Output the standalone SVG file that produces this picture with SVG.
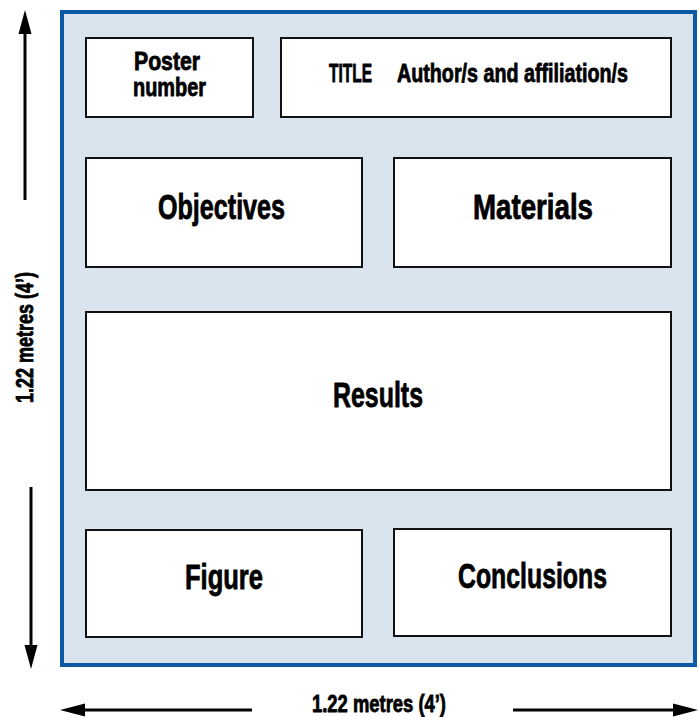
<svg xmlns="http://www.w3.org/2000/svg" width="699" height="717" viewBox="0 0 699 717">
<style>
.box{fill:#ffffff;stroke:#111111;stroke-width:2}
.t{font-family:"Liberation Sans",Arial,sans-serif;font-weight:bold;fill:#000000;stroke:#000000;stroke-width:0.8;stroke-linejoin:round}
.big{font-size:35px}
.mid{font-size:25px}
.dim{font-size:23px}
.ln{stroke:#000000;stroke-width:3;fill:none}
.hd{fill:#000000}
</style>
<rect id="frame" x="62" y="12" width="633" height="653" fill="#dae4ef" stroke="#0b5aa3" stroke-width="4"/>
<g id="poster-number">
<rect class="box" x="86" y="38" width="167" height="79"/>
<text class="t mid" x="134" y="70" textLength="66" lengthAdjust="spacingAndGlyphs">Poster</text>
<text class="t mid" x="133" y="96" textLength="73" lengthAdjust="spacingAndGlyphs">number</text>
</g>
<g id="title">
<rect class="box" x="281" y="38" width="390" height="79"/>
<text class="t mid" x="329" y="82" textLength="43" lengthAdjust="spacingAndGlyphs">TITLE</text>
<text class="t mid" x="397" y="82" textLength="231" lengthAdjust="spacingAndGlyphs">Author/s and affiliation/s</text>
</g>
<g id="objectives">
<rect class="box" x="86" y="158" width="276" height="109"/>
<text class="t big" x="158" y="219" textLength="127" lengthAdjust="spacingAndGlyphs">Objectives</text>
</g>
<g id="materials">
<rect class="box" x="394" y="158" width="277" height="109"/>
<text class="t big" x="473" y="219" textLength="120" lengthAdjust="spacingAndGlyphs">Materials</text>
</g>
<g id="results">
<rect class="box" x="86" y="312" width="585" height="178"/>
<text class="t big" x="333" y="407" textLength="90" lengthAdjust="spacingAndGlyphs">Results</text>
</g>
<g id="figure">
<rect class="box" x="86" y="530" width="276" height="107"/>
<text class="t big" x="185" y="589" textLength="78" lengthAdjust="spacingAndGlyphs">Figure</text>
</g>
<g id="conclusions">
<rect class="box" x="394" y="529" width="277" height="107"/>
<text class="t big" x="458" y="588" textLength="149" lengthAdjust="spacingAndGlyphs">Conclusions</text>
</g>
<g id="connectors">
<line class="ln" x1="25" y1="30" x2="25" y2="200"/>
<polygon class="hd" points="25,10 18.5,34 31.5,34"/>
<line class="ln" x1="31" y1="487" x2="31" y2="650"/>
<polygon class="hd" points="31,669 24.5,645 37.5,645"/>
<line class="ln" x1="78" y1="710" x2="252" y2="710"/>
<polygon class="hd" points="60,710 85,703.5 85,716.5"/>
<line class="ln" x1="513" y1="710" x2="680" y2="710"/>
<polygon class="hd" points="698,710 673,703.5 673,716.5"/>
</g>
<g id="labels">
<text class="t dim" transform="translate(33,403) rotate(-90)" x="0" y="0" textLength="131" lengthAdjust="spacingAndGlyphs">1.22 metres (4’)</text>
<text class="t dim" x="312" y="712" textLength="134" lengthAdjust="spacingAndGlyphs">1.22 metres (4’)</text>
</g>
</svg>
